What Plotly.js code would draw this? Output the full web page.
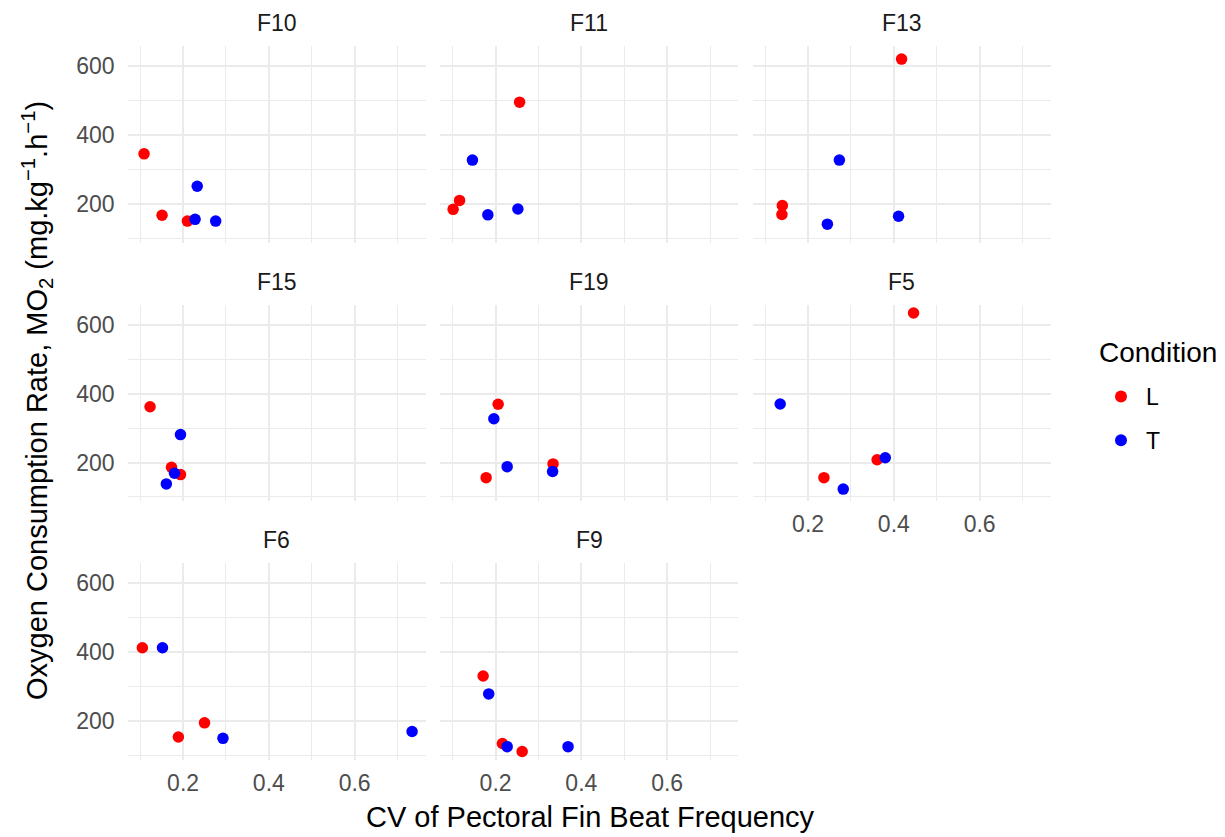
<!DOCTYPE html>
<html>
<head>
<meta charset="utf-8">
<script src="https://cdn.plot.ly/plotly-3.0.1.min.js"></script>
<style>html,body{margin:0;padding:0;background:#fff;}#chart{width:1225px;height:837px;}</style>
</head>
<body>
<div id="chart"></div>
<script>
// ---- data ----
const fishOrder = ['F10','F11','F13','F15','F19','F5','F6','F9'];

const lFish = ['F10','F10','F10','F11','F11','F11','F13','F13','F13','F15','F15','F15',
               'F19','F19','F19','F5','F5','F5','F6','F6','F6','F9','F9','F9'];
const lCV   = [0.109,0.151,0.210, 0.256,0.116,0.101, 0.418,0.140,0.139, 0.123,0.173,0.194,
               0.206,0.178,0.334, 0.446,0.237,0.361, 0.105,0.189,0.250, 0.171,0.216,0.262];
const lMO2  = [345,167,150, 495,210,184, 620,195,169, 362,186,165,
               369,156,196, 634,156,208, 413,154,195, 331,135,112];

const tFish = ['F10','F10','F10','F11','F11','F11','F13','F13','F13','F15','F15','F15',
               'F19','F19','F19','F5','F5','F5','F6','F6','F6','F9','F9','F9'];
const tCV   = [0.233,0.228,0.276, 0.146,0.182,0.252, 0.273,0.245,0.411, 0.194,0.180,0.161,
               0.196,0.227,0.333, 0.135,0.380,0.282, 0.152,0.293,0.734, 0.184,0.227,0.369];
const tMO2  = [251,155,150, 327,168,185, 327,141,164, 281,169,138,
               327,188,174, 370,214,123, 413,150,170, 279,126,126];

const conditions = ['L','T'];
const condColors = ['#FF0000','#0000FF'];
const legendTitle = 'Condition';

// ---- layout geometry (pixels) ----
const W = 1225, H = 837;
const colLeft = [127.5, 440, 752.5];
const panelW = 298.3;
const rowTop = [46, 304.7, 563.3];
const panelH = 196.7;
const FONT = 'Liberation Sans, Arial, sans-serif';

const xRange = [0.0704, 0.766];
const yRange = [87.2, 658];

const traces = [];
const layout = {
  width: W, height: H,
  margin: {l:0, r:0, t:0, b:0},
  paper_bgcolor: '#fff', plot_bgcolor: '#fff',
  font: {family: FONT, color: '#000'},
  showlegend: true,
  hovermode: false,
  legend: {
    x: 1096/W, xanchor: 'left', y: (H-375)/H, yanchor: 'top',
    font: {size: 23, color: '#000', family: FONT},
    traceorder: 'grouped', tracegroupgap: 11,
    itemsizing: 'constant', itemwidth: 40, bgcolor: 'rgba(0,0,0,0)'
  },
  annotations: []
};

function groupBy(fishArr, xArr, yArr, f) {
  const xs = [], ys = [];
  fishArr.forEach((g, i) => { if (g === f) { xs.push(xArr[i]); ys.push(yArr[i]); } });
  return {xs, ys};
}

fishOrder.forEach((f, i) => {
  const row = Math.floor(i / 3), col = i % 3;
  const sfx = i === 0 ? '' : String(i + 1);
  const xa = 'x' + sfx, ya = 'y' + sfx;
  const x0 = colLeft[col], x1 = x0 + panelW;
  const yT = rowTop[row], yB = yT + panelH;

  const showX = (row === 2) || (row === 1 && col === 2);
  const showY = col === 0;

  layout['xaxis' + sfx] = {
    domain: [x0 / W, x1 / W], anchor: ya, range: xRange,
    tick0: 0, dtick: 0.2, showgrid: true, gridcolor: '#EBEBEB', gridwidth: 2,
    minor: {tick0: 0.1, dtick: 0.1, showgrid: true, gridcolor: '#EBEBEB', gridwidth: 1},
    zeroline: false, showline: false, ticks: '',
    showticklabels: showX, ticklabelstandoff: 7,
    tickfont: {size: 23, color: '#4D4D4D', family: FONT}
  };
  layout['yaxis' + sfx] = {
    domain: [(H - yB) / H, (H - yT) / H], anchor: xa, range: yRange,
    tick0: 0, dtick: 200, showgrid: true, gridcolor: '#EBEBEB', gridwidth: 2,
    minor: {tick0: 0, dtick: 100, showgrid: true, gridcolor: '#EBEBEB', gridwidth: 1},
    zeroline: false, showline: false, ticks: '',
    showticklabels: showY, ticklabelstandoff: 12,
    tickfont: {size: 23, color: '#4D4D4D', family: FONT}
  };

  // strip label
  layout.annotations.push({
    text: f, xref: 'paper', yref: 'paper',
    x: (x0 + x1) / 2 / W, y: (H - (yT - 23)) / H,
    xanchor: 'center', yanchor: 'middle', showarrow: false,
    font: {size: 23, color: '#1A1A1A', family: FONT}
  });

  const sets = [groupBy(lFish, lCV, lMO2, f), groupBy(tFish, tCV, tMO2, f)];
  sets.forEach((s, k) => {
    traces.push({
      type: 'scatter', mode: 'markers',
      x: s.xs, y: s.ys, xaxis: xa, yaxis: ya,
      name: conditions[k], legendgroup: conditions[k],
      showlegend: i === 0,
      marker: {color: condColors[k], size: 11.5, line: {width: 0}},
      cliponaxis: false
    });
  });
});

// legend title
layout.annotations.push({
  text: legendTitle, xref: 'paper', yref: 'paper',
  x: 1097 / W, y: (H - 352) / H, xanchor: 'left', yanchor: 'middle', showarrow: false,
  font: {size: 28, color: '#000', family: FONT}
});

// axis titles
layout.annotations.push({
  text: 'CV of Pectoral Fin Beat Frequency', xref: 'paper', yref: 'paper',
  x: 590 / W, y: (H - 817) / H, xanchor: 'center', yanchor: 'middle', showarrow: false,
  font: {size: 29, color: '#000', family: FONT}
});
layout.annotations.push({
  text: 'Oxygen Consumption Rate, MO<sub>2</sub> (mg.kg<sup>\u22121</sup>.h<sup>\u22121</sup>)',
  xref: 'paper', yref: 'paper', textangle: -90,
  x: 37 / W, y: (H - 401) / H, xanchor: 'center', yanchor: 'middle', showarrow: false,
  font: {size: 29, color: '#000', family: FONT}
});

Plotly.newPlot('chart', traces, layout, {displayModeBar: false, staticPlot: true});
</script>
</body>
</html>
